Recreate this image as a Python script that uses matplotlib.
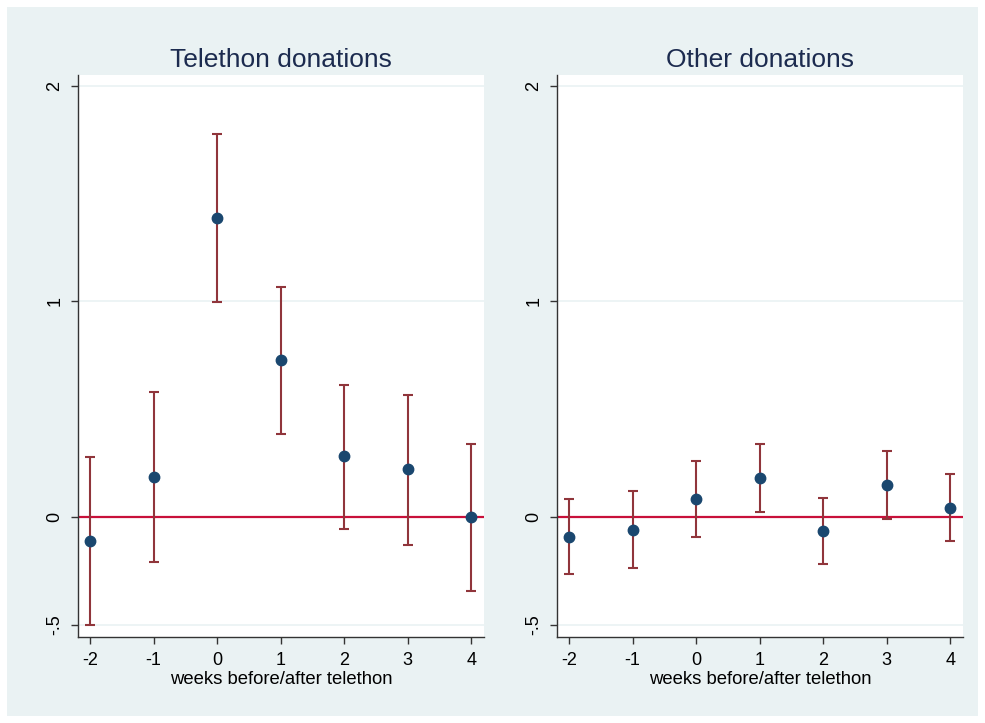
import numpy as np
import matplotlib.pyplot as plt
from matplotlib.patches import Rectangle

plt.rcParams['font.family'] = ['Liberation Sans', 'DejaVu Sans']

# weeks relative to the telethon
weeks = [-2, -1, 0, 1, 2, 3, 4]

# Telethon donations: point estimates and 95% CI
tele_est = [-0.11, 0.186, 1.387, 0.729, 0.283, 0.223, 0.0]
tele_hi = [0.278, 0.58, 1.777, 1.067, 0.613, 0.566, 0.339]
tele_lo = [-0.50, -0.209, 0.998, 0.385, -0.056, -0.13, -0.343]

# Other donations
oth_est = [-0.09, -0.062, 0.085, 0.181, -0.065, 0.15, 0.042]
oth_hi = [0.085, 0.122, 0.262, 0.339, 0.087, 0.306, 0.2]
oth_lo = [-0.265, -0.238, -0.091, 0.025, -0.216, -0.008, -0.111]

titles = ["Telethon donations", "Other donations"]
xlab = "weeks before/after telethon"
yticks = [-0.5, 0, 1, 2]
yticklabels = ["-.5", "0", "1", "2"]

bg = "#eaf2f3"
navy = "#1a476f"
maroon = "#90353b"
zero_col = "#c8103a"

fig = plt.figure(figsize=(9.85, 7.23), dpi=100)
fig.patch.set_facecolor("white")
fig.add_artist(Rectangle((7 / 985, 7 / 723), 971 / 985, 709 / 723,
                         transform=fig.transFigure, facecolor=bg,
                         edgecolor="none", zorder=-10))

axes = [fig.add_axes([78 / 985, 86 / 723, 406 / 985, 562 / 723]),
        fig.add_axes([557 / 985, 86 / 723, 406 / 985, 562 / 723])]

series = [(tele_est, tele_lo, tele_hi), (oth_est, oth_lo, oth_hi)]

for ax, title, (est, lo, hi) in zip(axes, titles, series):
    ax.set_facecolor("white")
    est = np.array(est)
    lo = np.array(lo)
    hi = np.array(hi)
    for yv in [-0.5, 1, 2]:
        ax.axhline(yv, color=bg, lw=1.2, zorder=1)
    ax.axhline(0, color=zero_col, lw=1.6, zorder=2)
    ax.errorbar(weeks, est, yerr=[est - lo, hi - est], fmt="none",
                ecolor=maroon, elinewidth=1.5, capsize=3.5, capthick=1.5,
                zorder=3)
    ax.plot(weeks, est, "o", color=navy, ms=7.5, zorder=4)
    ax.set_xlim(-2.19, 4.2)
    ax.set_ylim(-0.556, 2.05)
    ax.set_xticks(weeks)
    ax.set_xticklabels([str(w) for w in weeks])
    ax.set_yticks(yticks)
    ax.set_yticklabels(yticklabels, rotation=90, va="center")
    ax.tick_params(axis="both", labelsize=13, length=5, width=1,
                   color="#333333", labelcolor="black", pad=5.5)
    for s in ["top", "right"]:
        ax.spines[s].set_visible(False)
    for s in ["left", "bottom"]:
        ax.spines[s].set_color("#333333")
        ax.spines[s].set_linewidth(1)
    ax.set_title(title, fontsize=19, color="#1c2b4f", pad=6)
    ax.set_xlabel(xlab, fontsize=13.3, labelpad=2)

fig.savefig("out.png", dpi=100, facecolor=fig.get_facecolor())
